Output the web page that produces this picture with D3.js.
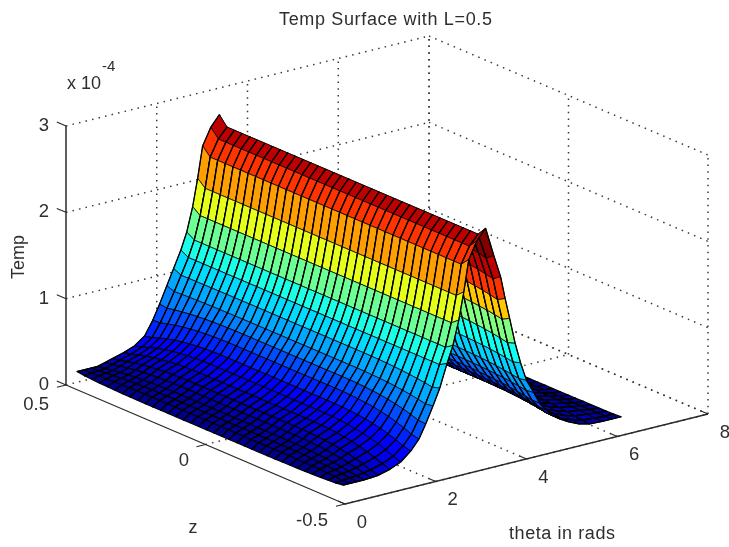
<!DOCTYPE html>
<html><head><meta charset="utf-8">
<script src="https://cdn.jsdelivr.net/npm/d3@7"></script>
<style>
html,body{margin:0;padding:0;background:#fff}
svg{display:block;filter:blur(0.4px)}
text{font-family:"Liberation Sans",Arial,sans-serif;fill:#2e2e2e}
</style></head><body>
<svg id="chart" width="729" height="547"></svg>
<script>
const titleText = "Temp Surface with L=0.5";
const thetaLabel = "theta in rads", zLabel = "z", tempLabel = "Temp";
const thetaTicks = [0,2,4,6,8];
const zTicks = [0.5,0,-0.5];
const tempTicks = [0,1,2,3];
const thetaMesh = [0.10,0.25,0.41,0.56,0.72,0.87,1.13,1.37,1.59,1.77,1.92,2.08,2.23,2.39,2.52,2.65,2.76,2.87,3.05,3.24,3.42,3.57,3.67,3.77,3.89,4.01,4.14,4.30,4.43,4.56,4.72,4.87,5.07,5.29,5.53,5.81,6.03,6.23];
const zMesh = [-0.477,-0.450,-0.423,-0.396,-0.368,-0.341,-0.314,-0.287,-0.259,-0.232,-0.205,-0.177,-0.150,-0.123,-0.096,-0.068,-0.041,-0.014,0.014,0.041,0.068,0.096,0.123,0.150,0.177,0.205,0.232,0.259,0.287,0.314,0.341,0.368,0.396,0.423,0.450,0.477];
// temperature (x 1e-4) along theta, at the z = -0.477 edge, at mid z, and at the z = +0.477 edge
const tempFrontEdge = [0.168,0.168,0.168,0.168,0.172,0.18,0.214,0.266,0.36,0.47,0.62,0.80,0.98,1.234,1.419,1.685,1.987,2.334,2.52,2.635,2.31,2.055,1.80,1.565,1.275,1.04,0.83,0.674,0.54,0.451,0.362,0.306,0.25,0.20,0.168,0.161,0.161,0.161];
const tempMiddle = [0.139,0.195,0.225,0.255,0.295,0.345,0.40,0.469,0.55,0.666,0.782,0.898,1.054,1.234,1.419,1.685,1.987,2.334,2.52,2.635,2.427,2.16,1.906,1.651,1.373,1.118,0.91,0.747,0.631,0.539,0.446,0.388,0.33,0.284,0.237,0.203,0.168,0.156];
const tempBackEdge = [0.168,0.168,0.168,0.168,0.19,0.214,0.249,0.295,0.376,0.53,0.69,0.875,1.048,1.234,1.419,1.685,1.987,2.334,2.52,2.635,2.31,2.055,1.80,1.565,1.275,1.04,0.83,0.674,0.54,0.451,0.362,0.306,0.25,0.20,0.168,0.161,0.161,0.161];
// share of the mid-z profile at each z column, and the small lift of the two edge columns
const midShare = [0,0.2,0.38,0.54,0.67,0.77,0.85,0.91,0.95,0.98,1,1,1,1,1,1,1,1,1,1,1,1,1,1,1,1,0.98,0.95,0.91,0.85,0.77,0.67,0.54,0.38,0.2,0];
const edgeLift = [1.04,1,1,1,1,1,1,1,1,1,1,1,1,1,1,1,1,1,1,1,1,1,1,1,1,1,1,1,1,1,1,1,1,1,1,1.04];
const rowColorLevels = [0,0.005,0.015,0.03,0.045,0.07,0.10,0.125,0.16,0.20,0.25,0.29,0.34,0.40,0.48,0.60,0.72,0.825,0.94,1,0.94,0.825,0.68,0.50,0.39,0.33,0.28,0.23,0.19,0.15,0.12,0.09,0.06,0.04,0.03,0.02,0.01];
const rowLineWidths = [1.2,1.2,1.2,1.2,1.2,1.1,1,1,0.9,0.9,0.8,0.8,0.8,0.8,0.8,0.8,0.8,0.8,0.8,0.8,0.8,0.8,0.8,0.8,0.8,0.8,0.8,0.8,0.8,0.9,0.9,1,1,1.2,1.2,1.2,1.2];

const origin = [345,504];
const thetaX = d3.scaleLinear([0,8],[0,363]), thetaY = d3.scaleLinear([0,8],[0,-90]);
const zX = d3.scaleLinear([-0.5,0.5],[0,-279]), zY = d3.scaleLinear([-0.5,0.5],[0,-119]);
const tempY = d3.scaleLinear([0,3],[0,-259]);
const project = (t,z,v) => [origin[0]+thetaX(t)+zX(z), origin[1]+thetaY(t)+zY(z)+tempY(v)];

const svg = d3.select("#chart");
const lineOf = d3.line();
const gridG = svg.append("g").attr("fill","none").attr("stroke","#3a3a3a").attr("stroke-width",1.5).attr("stroke-dasharray","1.5 5.2");
const seg = (a,b) => gridG.append("path").attr("d",lineOf([a,b]));
const tMin=0,tMax=8,zMin=-0.5,zMax=0.5,vMin=0,vMax=3;
tempTicks.forEach(v=>{ seg(project(tMin,zMax,v),project(tMax,zMax,v)); seg(project(tMax,zMax,v),project(tMax,zMin,v)); });
thetaTicks.filter(t=>t>0).forEach(t=>{ seg(project(t,zMin,vMin),project(t,zMax,vMin)); seg(project(t,zMax,vMin),project(t,zMax,vMax)); });
zTicks.forEach(z=>{ if(z<0.5) seg(project(tMin,z,vMin),project(tMax,z,vMin)); seg(project(tMax,z,vMin),project(tMax,z,vMax)); });

// box axes
const axisG = svg.append("g").attr("fill","none").attr("stroke","#2a2a2a");
const aseg=(a,b,w)=>axisG.append("path").attr("d",lineOf([a,b])).attr("stroke-width",w||1.1);
aseg(project(tMin,zMax,vMin),project(tMin,zMax,vMax),1.5);
aseg(project(tMin,zMax,vMin),project(tMin,zMin,vMin));
aseg(project(tMin,zMin,vMin),project(tMax,zMin,vMin),1.4);
tempTicks.forEach(v=>aseg(project(tMin,zMax,v),project(tMin,zMax+0.033,v)));
zTicks.forEach(z=>aseg(project(tMin,z,vMin),project(tMin-0.2,z,vMin)));
thetaTicks.forEach(t=>aseg(project(t,zMin,vMin),project(t,zMin+0.025,vMin)));

// surface
const midCol = (zMesh.length-1)/2;
const value = (i,j)=>{
  const edge = j<midCol ? tempFrontEdge[i] : tempBackEdge[i];
  return (edge*(1-midShare[j])+tempMiddle[i]*midShare[j])*edgeLift[j];
};
const jet = d3.scaleLinear([0,0.125,0.375,0.625,0.875,1],["#000090","#0000ff","#00ffff","#ffff00","#ff0000","#800000"]);
const faces=[];
for(let i=thetaMesh.length-2;i>=0;i--){
  for(let j=zMesh.length-2;j>=0;j--){
    const P=(a,b)=>project(thetaMesh[a],zMesh[b],value(a,b));
    faces.push({pts:[P(i,j),P(i+1,j),P(i+1,j+1),P(i,j+1)],c:jet(rowColorLevels[i]),w:rowLineWidths[i]});
  }
}
const faceG = svg.append("g").selectAll("g").data(faces).join("g");
faceG.append("path").attr("d",d=>lineOf(d.pts)+"Z").attr("fill",d=>d.c)
  .attr("stroke","#000").attr("stroke-width",d=>d.w).attr("stroke-linejoin","round");
faceG.append("path").attr("d",d=>lineOf([d.pts[0],d.pts[1]])+lineOf([d.pts[3],d.pts[2]]))
  .attr("fill","none").attr("stroke","#000").attr("stroke-width",1.3);

// text
const label=(x,y,s,size,anchor)=>svg.append("text").attr("x",x).attr("y",y).attr("font-size",size||18).attr("text-anchor",anchor||"middle").text(s);
label(385.5,25,titleText,18).attr("textLength",213).attr("lengthAdjust","spacing");
tempTicks.forEach(v=>{const p=project(tMin,zMax,v);label(49,p[1]+5,String(v),18.5,"end");});
label(49,409.5,"0.5",18.5,"end");
label(184,465.5,"0",18.5);
label(328,525.5,"-0.5",18.5,"end");
thetaTicks.forEach(t=>{const p=project(t,zMin,vMin);label(p[0]+17,p[1]+23.5,String(t),18.5);});
label(562,539,thetaLabel,18).attr("textLength",106).attr("lengthAdjust","spacing");
label(193,533,zLabel,18);
svg.append("text").attr("transform","translate(24,257) rotate(-90)").attr("font-size",18).attr("text-anchor","middle").text(tempLabel);
label(67,89,"x 10",18,"start");
label(102,71,"-4",15,"start");
</script>
</body></html>
